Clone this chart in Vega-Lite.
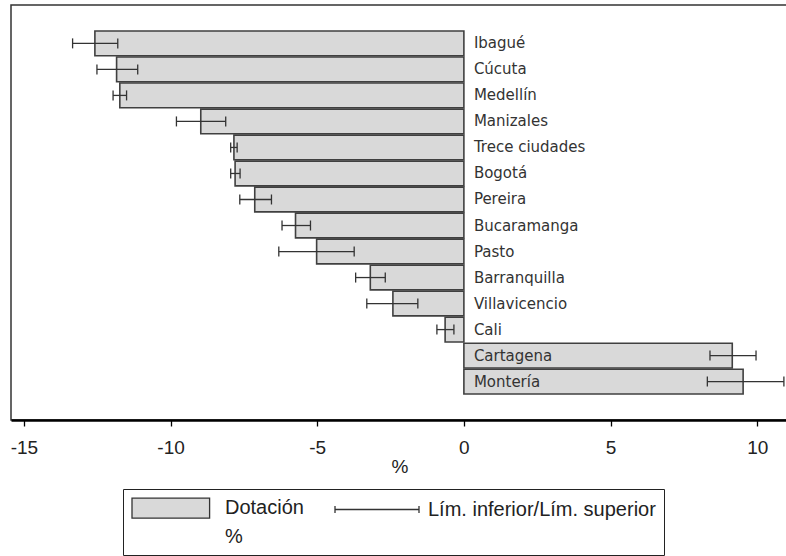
{
  "$schema": "https://vega.github.io/schema/vega-lite/v6.json",
  "width": 777,
  "height": 415,
  "autosize": {"type": "none"},
  "padding": {"left": 11, "top": 5, "right": 0, "bottom": 136},
  "background": "white",
  "config": {"view": {"stroke": "#333333", "strokeWidth": 1.5}},
  "data": {
    "values": [
      {"ciudad": "Ibagué", "dotacion": -12.58, "lim_inf": -13.34, "lim_sup": -11.8},
      {"ciudad": "Cúcuta", "dotacion": -11.84, "lim_inf": -12.51, "lim_sup": -11.12},
      {"ciudad": "Medellín", "dotacion": -11.73, "lim_inf": -11.96, "lim_sup": -11.5},
      {"ciudad": "Manizales", "dotacion": -8.97, "lim_inf": -9.8, "lim_sup": -8.12},
      {"ciudad": "Trece ciudades", "dotacion": -7.84, "lim_inf": -7.95, "lim_sup": -7.73},
      {"ciudad": "Bogotá", "dotacion": -7.8, "lim_inf": -7.95, "lim_sup": -7.63},
      {"ciudad": "Pereira", "dotacion": -7.13, "lim_inf": -7.64, "lim_sup": -6.56},
      {"ciudad": "Bucaramanga", "dotacion": -5.74, "lim_inf": -6.2, "lim_sup": -5.23},
      {"ciudad": "Pasto", "dotacion": -5.02, "lim_inf": -6.31, "lim_sup": -3.74},
      {"ciudad": "Barranquilla", "dotacion": -3.19, "lim_inf": -3.69, "lim_sup": -2.68},
      {"ciudad": "Villavicencio", "dotacion": -2.42, "lim_inf": -3.31, "lim_sup": -1.57},
      {"ciudad": "Cali", "dotacion": -0.64, "lim_inf": -0.92, "lim_sup": -0.34},
      {"ciudad": "Cartagena", "dotacion": 9.15, "lim_inf": 8.39, "lim_sup": 9.96},
      {"ciudad": "Montería", "dotacion": 9.52, "lim_inf": 8.3, "lim_sup": 10.91}
    ]
  },
  "encoding": {
    "y": {
      "field": "ciudad",
      "type": "nominal",
      "sort": null,
      "scale": {"paddingInner": 0.05, "paddingOuter": 1.05},
      "axis": null
    }
  },
  "layer": [
    {
      "mark": {"type": "bar", "stroke": "#404040", "strokeWidth": 1.6},
      "encoding": {
        "x": {
          "field": "dotacion",
          "type": "quantitative",
          "scale": {"domain": [-15.44, 11.05], "nice": false, "zero": false},
          "axis": {
            "values": [-15, -10, -5, 0, 5, 10],
            "labelExpr": "toString(datum.value)",
            "title": "%",
            "grid": false,
            "domainColor": "#000000",
            "domainWidth": 2.5,
            "tickColor": "#000000",
            "tickWidth": 1.3,
            "tickSize": 6,
            "labelFont": "Liberation Sans",
            "labelFontSize": 19,
            "labelColor": "#222222",
            "labelPadding": 12,
            "labelFlush": false,
            "labelOverlap": false,
            "titleFont": "Liberation Sans",
            "titleFontSize": 19,
            "titleFontWeight": "normal",
            "titleColor": "#222222",
            "titlePadding": 0
          }
        },
        "x2": {"datum": 0},
        "color": {
          "datum": "Dotación",
          "type": "nominal",
          "scale": {
            "domain": ["Dotación", "Lím. inferior/Lím. superior", "%"],
            "range": ["#d9d9d9", "#333333", "#ffffff"]
          },
          "legend": {
            "orient": "none",
            "legendX": 112,
            "legendY": 484,
            "direction": "horizontal",
            "columns": 2,
            "title": null,
            "padding": 8,
            "strokeColor": "#222222",
            "symbolSize": 400,
            "symbolStrokeWidth": 1.3,
            "symbolStrokeColor": "#333333",
            "symbolType": {"expr": "datum.value === 'Dotación' ? 'M-1,-1H6.76V1H-1Z' : datum.value === '%' ? 'M0,0' : 'M-1,0H7.4M-1,-0.35V0.35M7.4,-0.35V0.35'"},
            "labelFont": "Liberation Sans",
            "labelFontSize": 20,
            "labelColor": "#222222",
            "labelOffset": 72,
            "labelLimit": 400,
            "columnPadding": 28,
            "rowPadding": 5
          }
        }
      }
    },
    {
      "mark": {"type": "rule", "strokeWidth": 1.3, "color": "#333333"},
      "encoding": {
        "x": {"field": "lim_inf", "type": "quantitative"},
        "x2": {"field": "lim_sup"}
      }
    },
    {
      "mark": {"type": "tick", "orient": "vertical", "size": 10, "thickness": 1.3, "color": "#333333", "opacity": 1},
      "encoding": {"x": {"field": "lim_inf", "type": "quantitative"}}
    },
    {
      "mark": {"type": "tick", "orient": "vertical", "size": 10, "thickness": 1.3, "color": "#333333", "opacity": 1},
      "encoding": {"x": {"field": "lim_sup", "type": "quantitative"}}
    },
    {
      "mark": {"type": "text", "align": "left", "baseline": "middle", "dx": 10, "font": "DejaVu Sans", "fontSize": 15, "color": "#333333"},
      "encoding": {
        "x": {"datum": 0},
        "text": {"field": "ciudad"}
      }
    }
  ]
}
